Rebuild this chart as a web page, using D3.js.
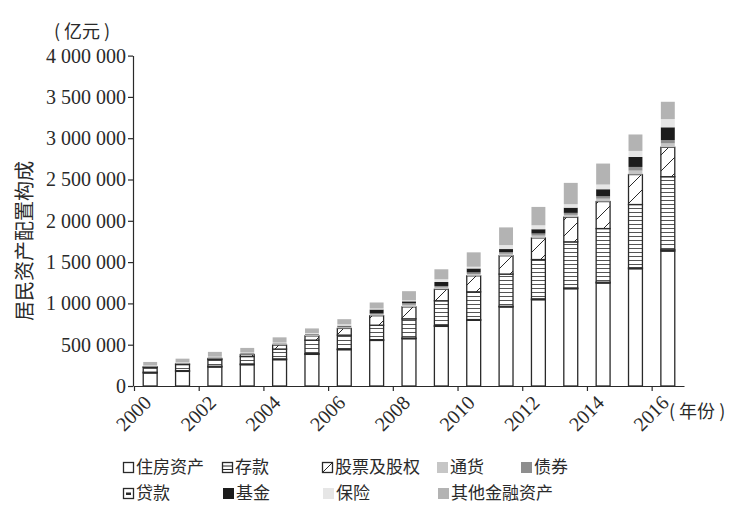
<!DOCTYPE html>
<html>
<head>
<meta charset="utf-8">
<script src="https://cdn.jsdelivr.net/npm/d3@7"></script>
<style>
  body { margin: 0; background: #fff; }
  svg { display: block; }
</style>
</head>
<body>
<div id="chart"></div>
<script>
// DATA (亿元)
var years = d3.range(2000, 2017);
var seriesNames = ["住房资产", "贷款", "存款", "股票及股权", "通货", "债券", "基金", "保险", "其他金融资产"];
var housing   = [158000, 177000, 230000, 258000, 319000, 383000, 440000, 552000, 573000, 722000, 795000, 957000, 1045000, 1178000, 1247000, 1420000, 1634000];
var loans     = [9000, 9000, 9000, 9000, 9000, 9000, 8000, 9000, 8000, 10000, 9000, 8000, 10000, 9000, 10000, 11000, 15000];
var deposits  = [59000, 74000, 82000, 90000, 119000, 163000, 168000, 175000, 232000, 300000, 336000, 390000, 476000, 558000, 649000, 766000, 885000];
var stocks    = [5000, 8000, 12000, 24000, 48000, 52000, 81000, 115000, 145000, 139000, 194000, 222000, 262000, 299000, 327000, 363000, 356000];
var currency  = [7000, 8000, 7000, 8000, 10000, 12000, 13000, 15000, 25000, 21000, 22000, 24000, 28000, 28000, 35000, 48000, 48000];
var bonds     = [4000, 4000, 5000, 6000, 7000, 8000, 10000, 12000, 20000, 19000, 19000, 21000, 25000, 24000, 29000, 44000, 40000];
var funds     = [1000, 2000, 2000, 3000, 4000, 5000, 10000, 48000, 22000, 48000, 48000, 36000, 52000, 63000, 85000, 121000, 154000];
var insurance = [6000, 7000, 8000, 8000, 10000, 10000, 16000, 12000, 12000, 33000, 21000, 48000, 48000, 42000, 57000, 73000, 100000];
var others    = [42000, 42000, 58000, 55000, 63000, 55000, 63000, 73000, 111000, 121000, 174000, 214000, 222000, 258000, 254000, 199000, 209000];
var yTicks = d3.range(0, 4000001, 500000);
var xTicks = d3.range(2000, 2017, 2);

// legend layout: [name, x, row]
var legendItems = [
  ["住房资产", 123, 0], ["存款", 222, 0], ["股票及股权", 322, 0], ["通货", 437, 0], ["债券", 521, 0],
  ["贷款", 123, 1], ["基金", 223, 1], ["保险", 323, 1], ["其他金融资产", 438, 1]
];

// SETUP
(function () {
  var width = 749, height = 507;
  var ink = "#2a2a2a";

  var table = years.map(function (yr, i) {
    return {
      year: yr,
      "住房资产": housing[i], "贷款": loans[i], "存款": deposits[i], "股票及股权": stocks[i],
      "通货": currency[i], "债券": bonds[i], "基金": funds[i], "保险": insurance[i], "其他金融资产": others[i]
    };
  });

  var svg = d3.select("#chart").append("svg")
    .attr("width", width)
    .attr("height", height);

  var defs = svg.append("defs");

  var stripe = defs.append("pattern")
    .attr("id", "stripe")
    .attr("patternUnits", "userSpaceOnUse")
    .attr("width", 8).attr("height", 4);
  stripe.append("rect").attr("width", 8).attr("height", 4).attr("fill", "#fff");
  stripe.append("line").attr("x1", 0).attr("x2", 8).attr("y1", 0.5).attr("y2", 0.5)
    .attr("stroke", "#555").attr("stroke-width", 1);

  var hatch = defs.append("pattern")
    .attr("id", "hatch")
    .attr("patternUnits", "userSpaceOnUse")
    .attr("width", 16).attr("height", 16);
  hatch.append("rect").attr("width", 16).attr("height", 16).attr("fill", "#fff");
  hatch.append("line").attr("x1", 0).attr("y1", 16).attr("x2", 16).attr("y2", 0)
    .attr("stroke", ink).attr("stroke-width", 1);

  var fills = {
    "住房资产": "#fff", "贷款": "#333", "存款": "url(#stripe)", "股票及股权": "url(#hatch)",
    "通货": "#c6c6c6", "债券": "#8e8e8e", "基金": "#1c1c1c", "保险": "#e6e6e6", "其他金融资产": "#b3b3b3"
  };
  var outlined = { "住房资产": true, "贷款": true, "存款": true, "股票及股权": true };

  var y = d3.scaleLinear().domain([0, 4000000]).range([386, 55.6]);
  var xTick = d3.scaleLinear().domain([2000, 2017]).range([134, 684]);
  var x = d3.scaleBand().domain(years).range([134, 684])
    .paddingInner(0.57).paddingOuter(0.285);

  // BARS
  var stacked = d3.stack().keys(seriesNames)(table);

  var layers = svg.append("g").selectAll("g")
    .data(stacked)
    .enter().append("g")
    .attr("fill", function (d) { return fills[d.key]; })
    .attr("stroke", function (d) { return outlined[d.key] ? ink : "none"; })
    .attr("stroke-width", 1.3);

  layers.selectAll("rect")
    .data(function (d) { return d; })
    .enter().append("rect")
    .attr("x", function (d) { return x(d.data.year); })
    .attr("y", function (d) { return y(d[1]); })
    .attr("width", x.bandwidth())
    .attr("height", function (d) { return y(d[0]) - y(d[1]); });

  // AXES
  var fmt = function (d) { return d3.format(",")(d).replace(/,/g, " "); };

  var gy = svg.append("g")
    .attr("transform", "translate(133,0)")
    .call(d3.axisLeft(y).tickValues(yTicks).tickFormat(fmt).tickSize(5).tickSizeOuter(0));
  gy.selectAll("text")
    .attr("x", -7)
    .style("font-family", "'Liberation Serif', serif")
    .style("font-size", "20px")
    .attr("fill", ink);

  var gx = svg.append("g")
    .attr("transform", "translate(0,386)")
    .call(d3.axisBottom(xTick).tickValues(xTicks).tickFormat(d3.format("d")).tickSize(5).tickSizeOuter(0));
  gx.selectAll("text")
    .attr("x", 0).attr("y", 0).attr("dy", 0)
    .attr("text-anchor", "end")
    .attr("transform", "translate(18,18) rotate(-45)")
    .style("font-family", "'Liberation Serif', serif")
    .style("font-size", "20px")
    .attr("fill", ink);

  svg.selectAll(".domain, .tick line").attr("stroke", ink).attr("stroke-width", 1.2);

  // TITLES
  var cjk = "'Noto Sans CJK SC', sans-serif";

  svg.append("text")
    .attr("x", 82).attr("y", 38)
    .attr("text-anchor", "middle")
    .style("font-family", cjk).style("font-size", "18px")
    .attr("fill", ink)
    .text("( 亿元 )");

  svg.append("text")
    .attr("transform", "translate(32,241) rotate(-90)")
    .attr("text-anchor", "middle")
    .style("font-family", cjk).style("font-size", "20px")
    .attr("fill", ink)
    .text("居民资产配置构成");

  svg.append("text")
    .attr("x", 669).attr("y", 418)
    .style("font-family", cjk).style("font-size", "18px")
    .attr("fill", ink)
    .text("( 年份 )");

  // LEGEND
  var legend = svg.append("g").selectAll("g")
    .data(legendItems)
    .enter().append("g")
    .attr("transform", function (d) { return "translate(" + d[1] + "," + (462 + d[2] * 26) + ")"; });

  legend.each(function (d) {
    var g = d3.select(this), k = d[0];
    if (outlined[k]) {
      g.append("rect").attr("x", 0.5).attr("y", 0.5).attr("width", 10).attr("height", 10)
        .attr("fill", "#fff").attr("stroke", ink).attr("stroke-width", 1.3);
      if (k === "存款") {
        g.append("path").attr("d", "M1,4H10M1,7.5H10").attr("stroke", ink).attr("stroke-width", 1);
      } else if (k === "股票及股权") {
        g.append("path").attr("d", "M1,10L10,1").attr("stroke", ink).attr("stroke-width", 1);
      } else if (k === "贷款") {
        g.append("rect").attr("x", 3).attr("y", 4.5).attr("width", 5).attr("height", 2.5).attr("fill", ink);
      }
    } else {
      g.append("rect").attr("x", 0).attr("y", 0).attr("width", 11).attr("height", 11)
        .attr("fill", fills[k]);
    }
    g.append("text")
      .attr("x", 13).attr("y", 11)
      .style("font-family", cjk).style("font-size", "17px")
      .attr("fill", ink)
      .text(k);
  });
})();
</script>
</body>
</html>
